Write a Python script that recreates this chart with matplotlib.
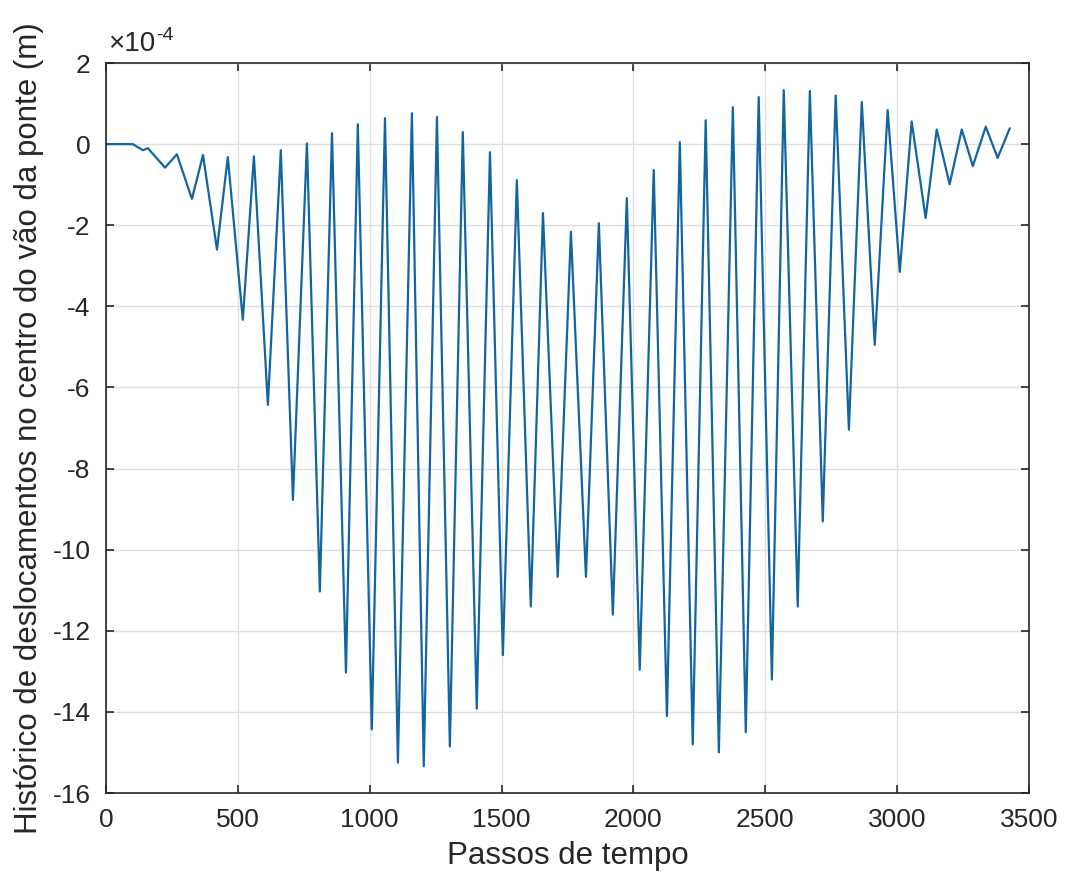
import numpy as np
import matplotlib.pyplot as plt
from matplotlib.ticker import FuncFormatter

plt.rcParams['font.family'] = ['Liberation Sans', 'DejaVu Sans']
plt.rcParams['axes.unicode_minus'] = False

# Extremos do deslocamento (passo de tempo, valor em 1e-4 m)
passos = [0, 102, 140, 159, 224, 269, 326, 368, 421, 462, 519, 561, 614, 663,
          709, 762, 811, 857, 910, 955, 1008, 1058, 1107, 1160, 1205, 1255,
          1304, 1353, 1406, 1456, 1505, 1558, 1611, 1657, 1713, 1763, 1820,
          1869, 1922, 1975, 2024, 2077, 2127, 2176, 2225, 2274, 2324, 2377,
          2426, 2475, 2525, 2570, 2623, 2669, 2718, 2767, 2817, 2866, 2915,
          2964, 3010, 3055, 3108, 3150, 3199, 3245, 3287, 3336, 3381, 3427]
desloc_e4 = [0, 0, -0.15, -0.10, -0.58, -0.25, -1.35, -0.27, -2.6, -0.32,
             -4.33, -0.30, -6.43, -0.15, -8.77, 0.02, -11.03, 0.27, -13.03,
             0.49, -14.43, 0.64, -15.25, 0.76, -15.34, 0.67, -14.85, 0.30,
             -13.92, -0.20, -12.6, -0.89, -11.4, -1.70, -10.67, -2.16, -10.67,
             -1.95, -11.6, -1.33, -12.96, -0.64, -14.1, 0.05, -14.8, 0.59,
             -15.0, 0.91, -14.5, 1.16, -13.2, 1.33, -11.4, 1.31, -9.3, 1.20,
             -7.04, 1.04, -4.95, 0.84, -3.15, 0.56, -1.82, 0.36, -0.99, 0.36,
             -0.54, 0.43, -0.34, 0.39]

x_ticks = [0, 500, 1000, 1500, 2000, 2500, 3000, 3500]
y_ticks_e4 = [2, 0, -2, -4, -6, -8, -10, -12, -14, -16]

desloc = np.array(desloc_e4) * 1e-4

fig = plt.figure(figsize=(10.67, 8.84), dpi=100)
ax = fig.add_axes([0.0993, 0.1029, 0.8651, 0.8258])

ax.plot(passos, desloc, color='#12659f', lw=1.6,
        solid_joinstyle='round', solid_capstyle='round')

ax.set_xlim(0, 3500)
ax.set_ylim(-16e-4, 2e-4)
ax.set_xticks(x_ticks)
ax.set_yticks(np.array(y_ticks_e4) * 1e-4)
ax.yaxis.set_major_formatter(FuncFormatter(lambda v, p: f'{v * 1e4:.0f}'))

ax.grid(True, color='#dedede', lw=1.0)
ax.set_axisbelow(True)
for s in ax.spines.values():
    s.set_color('#262626')
    s.set_linewidth(1.2)
ax.tick_params(direction='in', length=6, width=1.2, color='#262626',
               top=True, right=True, labelsize=19, labelcolor='#262626')
ax.tick_params(axis='x', pad=11)
ax.tick_params(axis='y', pad=11)

ax.set_xlabel('Passos de tempo', fontsize=22.5, color='#262626', labelpad=6)
ax.set_ylabel('Histórico de deslocamentos no centro do vão da ponte (m)',
              fontsize=22.5, color='#262626', labelpad=6)

# fator de escala do eixo y: "×10" com expoente "-4"
base = ax.text(0.002, 1.008, '×10', transform=ax.transAxes,
               fontsize=20, color='#262626', ha='left', va='bottom')
ax.annotate('-4', xy=(1.0, 1.0), xycoords=base, xytext=(1, 3),
            textcoords='offset points', fontsize=14, color='#262626',
            ha='left', va='top')

plt.savefig('out.png', dpi=100)
